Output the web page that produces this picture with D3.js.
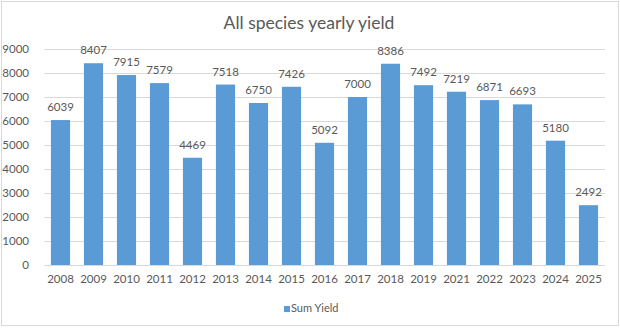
<!DOCTYPE html>
<html>
<head>
<meta charset="utf-8">
<script src="https://cdn.jsdelivr.net/npm/d3@7/dist/d3.min.js"></script>
<style>
  html, body { margin: 0; padding: 0; background: #fff; }
  svg { display: block; }
  text { font-family: Lato, "Open Sans", sans-serif; fill: #595959; }
</style>
</head>
<body>
<svg id="chart" width="620" height="328"></svg>
<script>
// Yearly yield totals (2020 has no record)
const years = ["2008","2009","2010","2011","2012","2013","2014","2015","2016","2017","2018","2019","2021","2022","2023","2024","2025"];
const sumYield = [6039, 8407, 7915, 7579, 4469, 7518, 6750, 7426, 5092, 7000, 8386, 7492, 7219, 6871, 6693, 5180, 2492];
const yTicks = [0, 1000, 2000, 3000, 4000, 5000, 6000, 7000, 8000, 9000];

const svg = d3.select("#chart");
const W = 620;
const plot = { left: 44, right: 605, top: 49, bottom: 265 };
const barColor = "#5b9bd5";
const labelSize = 11.5;

// chart frame
svg.append("rect")
  .attr("x", 1.5).attr("y", 1.5)
  .attr("width", W - 3).attr("height", 324)
  .attr("fill", "#fff").attr("stroke", "#d9d9d9").attr("stroke-width", 1);

const x = d3.scaleBand().domain(years).range([plot.left, plot.right]).paddingInner(0.42).paddingOuter(0.21);
const y = d3.scaleLinear().domain([0, 9000]).range([plot.bottom, plot.top]);

// horizontal gridlines
svg.append("g").selectAll("line").data(yTicks).join("line")
  .attr("x1", plot.left).attr("x2", plot.right)
  .attr("y1", d => Math.round(y(d)) + 0.5).attr("y2", d => Math.round(y(d)) + 0.5)
  .attr("stroke", "#d9d9d9").attr("stroke-width", 1);

// y axis labels
const yAxis = d3.axisLeft(y).tickValues(yTicks).tickSize(0).tickPadding(0).tickFormat(d3.format("d"));
const gy = svg.append("g").attr("transform", "translate(29,0)").call(yAxis);
gy.select(".domain").remove();
gy.selectAll("text").attr("font-size", labelSize).style("font-family", "Lato, sans-serif").attr("fill", "#595959");

// x axis labels
const xAxis = d3.axisBottom(x).tickSize(0).tickPadding(0);
const gx = svg.append("g").attr("transform", "translate(0,275)").call(xAxis);
gx.select(".domain").remove();
gx.selectAll("text").attr("font-size", labelSize).style("font-family", "Lato, sans-serif").attr("fill", "#595959");

// bars
svg.append("g").selectAll("rect").data(years).join("rect")
  .attr("x", d => x(d))
  .attr("width", x.bandwidth())
  .attr("y", (d, i) => y(sumYield[i]))
  .attr("height", (d, i) => y(0) - y(sumYield[i]))
  .attr("fill", barColor);

// value labels
svg.append("g").selectAll("text").data(years).join("text")
  .attr("x", d => x(d) + x.bandwidth() / 2)
  .attr("y", (d, i) => y(sumYield[i]) - 9)
  .attr("text-anchor", "middle")
  .attr("font-size", labelSize)
  .text((d, i) => sumYield[i]);

// title
svg.append("text")
  .attr("x", 309).attr("y", 29)
  .attr("text-anchor", "middle")
  .attr("font-size", 17.5)
  .text("All species yearly yield");

// legend
const lg = svg.append("g");
lg.append("rect").attr("x", 284).attr("y", 306).attr("width", 6).attr("height", 6).attr("fill", barColor);
lg.append("text").attr("x", 291).attr("y", 312).attr("font-size", 11).text("Sum Yield");
</script>
</body>
</html>
